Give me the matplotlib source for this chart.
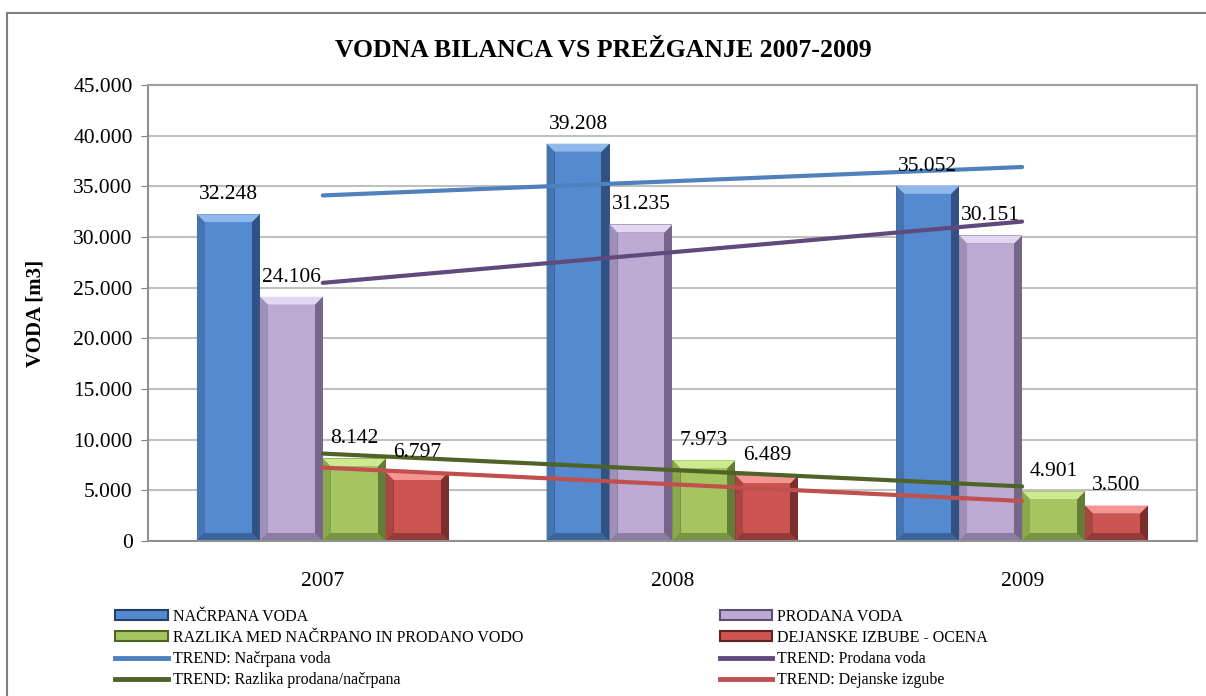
import numpy as np
import matplotlib
matplotlib.use('Agg')
import matplotlib.pyplot as plt
from matplotlib.patches import Rectangle, Polygon
from matplotlib.lines import Line2D
from matplotlib.colors import to_rgb
from matplotlib.ticker import FuncFormatter

plt.rcParams['font.family'] = ['Liberation Serif', 'DejaVu Serif']

years = ['2007', '2008', '2009']
nacrpana = [32248, 39208, 35052]
prodana = [24106, 31235, 30151]
razlika = [8142, 7973, 4901]
izgube = [6797, 6489, 3500]

bar_names = ['NAČRPANA VODA', 'PRODANA VODA',
             'RAZLIKA MED NAČRPANO IN PRODANO VODO', 'DEJANSKE IZBUBE - OCENA']
trend_names = ['TREND: Načrpana voda', 'TREND: Prodana voda',
               'TREND: Razlika prodana/načrpana', 'TREND: Dejanske izgube']
bar_cols = ['#558ad0', '#bcaad3', '#a4c55f', '#cc5452']
dark_cols = ['#23406a', '#5d4f72', '#4e6427', '#5e2220']
light_cols = ['#8fb8ec', '#e2d6f2', '#cdea90', '#f59592']
trend_cols = ['#4f81bd', '#604a7b', '#4f6228', '#c0504d']

series = [nacrpana, prodana, razlika, izgube]


def mix(a, b, t):
    a, b = np.array(to_rgb(a)), np.array(to_rgb(b))
    return tuple(a * (1 - t) + b * t)


fig = plt.figure(figsize=(12.06, 6.96), dpi=100)
ax = fig.add_axes([0.1227, 0.2227, 0.8698, 0.6552])

# outer chart frame
fig.patches.append(Rectangle((0.006, -0.1), 1.2, 1.081, transform=fig.transFigure,
                             fill=False, edgecolor='#808080', lw=1.5))

x = np.arange(len(years))
w = 0.18
offsets = [-1.5 * w, -0.5 * w, 0.5 * w, 1.5 * w]
dx = 0.023
dy = 800

for vals, off, c, dc, lc in zip(series, offsets, bar_cols, dark_cols, light_cols):
    for xi, v in zip(x, vals):
        x0 = xi + off - w / 2
        x1 = xi + off + w / 2
        # right bevel (dark)
        ax.add_patch(Rectangle((x0, 0), w, v, facecolor=mix(c, dc, 0.75),
                               edgecolor='none', zorder=2))
        # left bevel
        ax.add_patch(Polygon([[x0, 0], [x0 + dx, dy], [x0 + dx, v - dy], [x0, v]],
                             facecolor=mix(c, dc, 0.3), edgecolor='none', zorder=2))
        # top bevel light
        ax.add_patch(Polygon([[x0, v], [x1, v], [x1 - dx, v - dy], [x0 + dx, v - dy]],
                             facecolor=lc, edgecolor='none', zorder=2))
        # bottom bevel
        ax.add_patch(Polygon([[x0, 0], [x1, 0], [x1 - dx, dy], [x0 + dx, dy]],
                             facecolor=mix(c, dc, 0.5), edgecolor='none', zorder=2))
        # face
        ax.add_patch(Rectangle((x0 + dx, dy), w - 2 * dx, v - 2 * dy,
                               facecolor=c, edgecolor='none', zorder=2))
        ax.text(xi + off, v + 1000, f'{v / 1000:.3f}', ha='center', va='bottom',
                fontsize=15.5, zorder=5)

# linear trend lines (Excel style)
for vals, tc in zip(series, trend_cols):
    k, b = np.polyfit(x, vals, 1)
    ax.plot(x, k * x + b, color=tc, lw=3, solid_capstyle='round', zorder=4)

ax.set_xlim(-0.5, 2.5)
ax.set_ylim(0, 45000)
ax.set_yticks(np.arange(0, 45001, 5000))
ax.yaxis.set_major_formatter(FuncFormatter(
    lambda v, p: '0' if v == 0 else f'{v / 1000:.3f}'))
ax.set_xticks(x)
ax.set_xticklabels(years)
ax.tick_params(axis='y', length=5, color='#808080', labelsize=15.5, pad=6)
ax.tick_params(axis='x', length=0, labelsize=15.5, pad=22)
ax.grid(axis='y', color='#c0c0c0', lw=1.5, zorder=0)
ax.set_axisbelow(True)
for s in ax.spines.values():
    s.set_color('#a0a0a0')
    s.set_linewidth(1.5)
ax.spines['left'].set_color('#909090')
ax.spines['bottom'].set_color('#909090')

ax.set_ylabel('VODA [m3]', fontsize=15, fontweight='bold', labelpad=20)
fig.text(0.5, 0.928, 'VODNA BILANCA VS PREŽGANJE 2007-2009', ha='center', va='center',
         fontsize=18.5, fontweight='bold')

bar_h = [Rectangle((0, 0), 1, 1, facecolor=c, edgecolor=dc, lw=1.5)
         for c, dc in zip(bar_cols, dark_cols)]
line_h = [Line2D([], [], color=tc, lw=3.5) for tc in trend_cols]
handles = [bar_h[0], bar_h[2], line_h[0], line_h[2], bar_h[1], bar_h[3], line_h[1], line_h[3]]
labels = [bar_names[0], bar_names[2], trend_names[0], trend_names[2],
          bar_names[1], bar_names[3], trend_names[1], trend_names[3]]
fig.legend(handles, labels, loc='upper left', bbox_to_anchor=(0.089, 0.137), ncol=2,
           frameon=False, fontsize=11.5, handlelength=3.3, handleheight=0.55,
           handletextpad=0.3, labelspacing=0.33, columnspacing=12.3, borderpad=0)

fig.savefig('out.png', dpi=100)
